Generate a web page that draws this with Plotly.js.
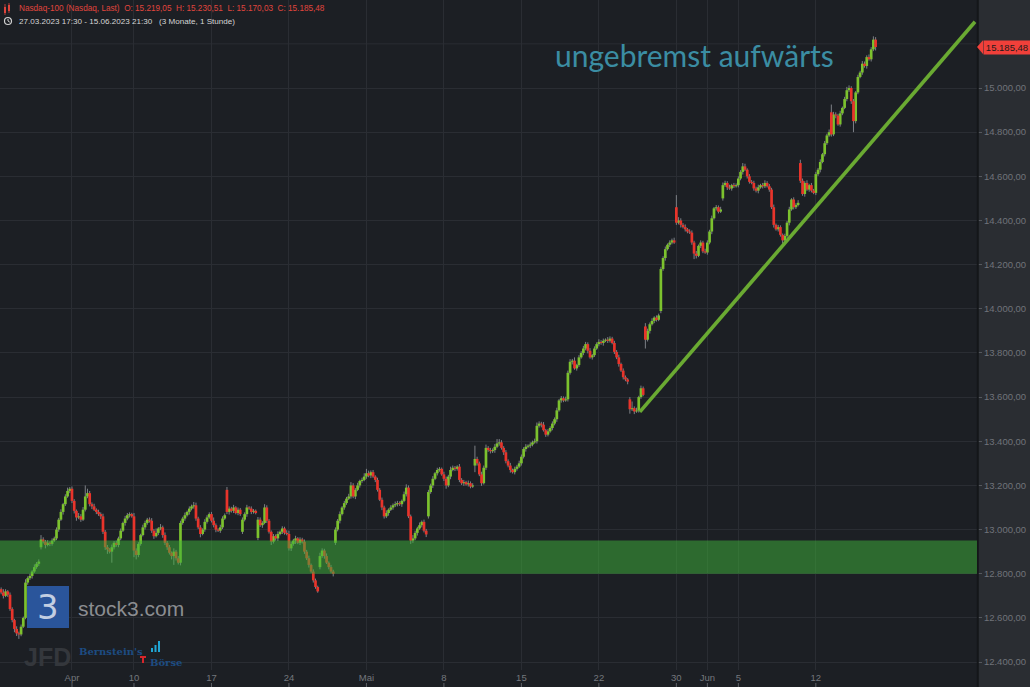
<!DOCTYPE html>
<html>
<head>
<meta charset="utf-8">
<script src="https://cdn.plot.ly/plotly-3.0.1.min.js"></script>
<style>
html,body{margin:0;padding:0;background:#1c1f24;}
#chart{width:1030px;height:687px;}
</style>
</head>
<body>
<div id="chart"></div>
<script>
// ---------- DATA (hourly candles, Nasdaq-100, 27.03.2023 17:30 – 15.06.2023 21:30) ----------
const tradingDays = ['2023-03-27','2023-03-28','2023-03-29','2023-03-30','2023-03-31',
  '2023-04-03','2023-04-04','2023-04-05','2023-04-06',
  '2023-04-10','2023-04-11','2023-04-12','2023-04-13','2023-04-14',
  '2023-04-17','2023-04-18','2023-04-19','2023-04-20','2023-04-21',
  '2023-04-24','2023-04-25','2023-04-26','2023-04-27','2023-04-28',
  '2023-05-01','2023-05-02','2023-05-03','2023-05-04','2023-05-05',
  '2023-05-08','2023-05-09','2023-05-10','2023-05-11','2023-05-12',
  '2023-05-15','2023-05-16','2023-05-17','2023-05-18','2023-05-19',
  '2023-05-22','2023-05-23','2023-05-24','2023-05-25','2023-05-26',
  '2023-05-30','2023-05-31','2023-06-01','2023-06-02',
  '2023-06-05','2023-06-06','2023-06-07','2023-06-08','2023-06-09',
  '2023-06-12','2023-06-13','2023-06-14','2023-06-15'];
const candlesPerDay = 7;       // 15:30 … 21:30
const firstSlot = 2;           // first candle 27.03. 17:30
const firstOpen = 12725;

const closes = [
 12730,12715,12700,12720,12705,
 12640,12590,12550,12530,12525,12560,12600,
 12760,12780,12790,12810,12830,12845,12855,
 12955,12945,12930,12940,12935,12950,12960,
 13000,13045,13080,13115,13150,13175,13185,
 13130,13085,13055,13060,13045,13090,13150,
 13165,13115,13105,13090,13080,13070,13060,
 12990,12920,12910,12900,12920,12940,12930,
 12960,12995,13030,13050,13065,13070,13060,
 12905,12885,12935,12975,13010,13030,13045,
 13040,12995,12970,12985,13005,13010,12975,
 12940,12920,12895,12880,12900,12870,12850,
 13030,13050,13065,13080,13095,13105,13110,
 13050,13010,12980,13000,13035,13055,13070,
 13040,13020,13000,12995,13010,13050,13065,
 13080,13095,13085,13100,13075,13090,13070,
 13045,13070,13100,13095,13080,13085,13075,
 13045,13020,13030,13100,13040,12990,12945,
 12970,12960,12980,12990,13005,12985,12980,
 12915,12935,12950,12960,12940,12955,12945,
 12900,12870,12840,12810,12770,12740,12720,
 12880,12905,12880,12850,12830,12810,12800,
 13000,13040,13070,13100,13120,13140,13150,
 13200,13150,13180,13200,13220,13225,13240,
 13255,13245,13260,13240,13225,13180,13135,
 13100,13060,13075,13090,13100,13110,13115,
 13120,13115,13130,13160,13190,13060,12950,
 12960,12985,13005,13020,13035,12995,12978,
 13170,13200,13230,13255,13270,13275,13250,
 13230,13200,13240,13270,13280,13275,13285,
 13225,13210,13215,13205,13210,13195,13200,
 13320,13300,13250,13210,13280,13370,13360,
 13355,13360,13375,13390,13395,13370,13350,
 13310,13290,13270,13260,13275,13285,13300,
 13330,13365,13375,13380,13385,13395,13400,
 13470,13480,13475,13450,13430,13445,13460,
 13480,13500,13540,13585,13595,13585,13590,
 13710,13760,13765,13730,13745,13780,13800,
 13820,13840,13810,13780,13790,13820,13840,
 13850,13845,13855,13860,13855,13865,13845,
 13805,13780,13750,13720,13690,13680,13670,
 13545,13550,13535,13540,13600,13640,13610,
 13860,13900,13930,13945,13960,13950,13970,
 14180,14230,14270,14290,14300,14310,14300,
 14390,14400,14380,14370,14360,14350,14345,
 14300,14250,14240,14285,14300,14260,14255,
 14300,14350,14410,14455,14460,14440,14450,
 14560,14570,14550,14545,14560,14555,14560,
 14590,14620,14645,14630,14600,14575,14570,
 14545,14535,14550,14560,14555,14570,14555,
 14540,14460,14380,14360,14370,14335,14310,
 14330,14390,14450,14495,14460,14470,14480,
 14580,14520,14570,14540,14560,14535,14525,
 14610,14630,14665,14700,14750,14785,14800,
 14790,14880,14875,14835,14885,14910,14950,
 14990,15000,14940,14850,14980,15050,15070,
 15110,15100,15140,15130,15175,15219.05,15185.48
];

// opening gaps: [trading-day index, open of its first candle]
const gapOpens = [[3,12920],[15,13180],[16,12990],[17,12962],[21,12830],[22,12940],
  [28,13060],[31,13290],[41,13590],[42,13920],[43,13990],[44,14460],[47,14500],
  [52,14660],[54,14890]];

const wickUp = [
 12,8,15,10,6,
 10,8,6,12,8,10,6,
 15,8,10,6,12,8,10,
 20,10,8,12,6,10,8,
 10,8,12,6,10,15,8,
 10,8,6,15,10,12,50,
 20,10,8,12,6,10,8,
 12,8,10,6,12,8,10,
 8,10,6,12,10,8,6,
 15,10,8,6,12,10,8,
 10,12,8,20,6,15,8,
 12,8,10,6,15,8,10,
 10,8,12,6,10,8,15,
 12,8,10,6,12,10,8,
 10,15,8,6,12,10,8,
 13,10,8,12,6,10,8,
 10,8,12,6,10,8,6,
 12,10,8,15,10,8,6,
 10,8,12,6,10,8,12,
 15,10,8,12,6,10,8,
 10,8,12,6,10,8,6,
 15,10,8,12,6,10,8,
 10,8,12,6,10,8,12,
 15,10,8,12,6,10,15,
 20,12,8,10,6,10,8,
 10,8,12,6,10,8,12,
 10,8,6,12,15,10,8,
 15,10,8,12,6,10,8,
 10,8,12,6,10,8,6,
 12,10,8,15,10,8,6,
 12,8,10,6,12,8,10,
 60,10,8,12,10,15,8,
 10,8,12,20,15,10,8,
 10,8,12,6,10,8,12,
 10,8,12,6,10,8,12,
 15,10,8,12,6,10,8,
 10,8,12,6,10,8,12,
 10,12,8,15,6,10,8,
 12,10,8,12,6,10,8,
 12,8,10,6,12,10,8,
 10,8,12,6,10,8,6,
 10,30,8,12,6,12,8,
 15,10,8,12,6,10,8,
 10,8,12,6,10,8,12,
 55,15,10,8,12,6,10,
 10,8,12,6,10,8,12,
 10,8,12,6,10,8,12,
 12,10,8,12,6,10,8,
 10,8,15,12,6,10,8,
 10,8,12,6,10,12,8,
 10,8,12,6,10,8,6,
 10,8,12,6,10,8,12,
 15,10,8,12,6,10,8,
 10,8,12,6,10,8,12,
 35,12,10,8,12,6,10,
 15,12,8,10,6,10,8,
 12,10,8,12,10,15,11.46
];

const wickDown = [
 10,8,12,6,10,
 8,10,15,12,20,8,6,
 6,10,8,12,6,8,10,
 10,8,15,6,10,8,6,
 8,10,6,12,8,6,10,
 10,12,15,8,10,6,8,
 8,10,12,6,10,8,12,
 10,12,20,8,50,10,8,
 10,8,6,12,8,10,6,
 30,20,10,8,6,10,8,
 8,10,12,6,10,8,12,
 10,12,8,15,40,10,8,
 12,8,10,6,12,8,10,
 10,8,15,6,10,8,6,
 8,10,12,6,10,8,6,
 10,12,8,10,6,10,8,
 10,8,12,6,10,8,6,
 10,8,12,6,10,8,15,
 8,10,12,6,10,8,6,
 10,12,8,15,6,10,8,
 10,8,12,6,10,8,6,
 10,8,12,6,10,8,12,
 10,8,12,6,10,8,6,
 10,8,12,6,10,8,6,
 10,8,12,6,10,8,6,
 12,10,8,12,6,10,8,
 10,8,12,6,10,8,15,
 10,8,12,6,10,8,12,
 10,8,12,6,10,8,6,
 10,15,8,12,6,10,8,
 10,8,12,6,10,8,6,
 30,10,8,12,6,10,8,
 10,8,12,6,10,8,12,
 10,8,12,6,10,8,6,
 10,8,12,6,10,8,6,
 10,8,12,6,10,8,6,
 10,8,12,6,10,8,6,
 10,8,12,6,10,8,6,
 10,8,12,6,10,8,6,
 10,8,12,6,10,8,6,
 10,8,12,6,10,8,12,
 20,8,12,6,10,8,6,
 40,8,12,6,10,8,6,
 10,8,12,6,10,8,6,
 10,8,12,6,10,8,6,
 10,25,12,6,10,8,6,
 10,8,12,6,10,8,6,
 10,8,12,6,10,8,6,
 10,8,12,6,10,8,6,
 10,8,12,6,10,8,6,
 10,8,12,6,10,8,15,
 10,8,12,6,10,8,6,
 10,8,12,6,10,8,6,
 10,8,12,6,10,8,6,
 10,8,12,6,10,8,6,
 10,8,12,50,10,8,6,
 10,8,12,6,10,8,15.45
];

// x-axis labels (first trading day shown with each label)
const tickDates = ['2023-04-03','2023-04-10','2023-04-17','2023-04-24','2023-05-01','2023-05-08',
  '2023-05-15','2023-05-22','2023-05-30','2023-06-01','2023-06-05','2023-06-12'];
const tickText = ['Apr','10','17','24','Mai','8','15','22','30','Jun','5','12'];

const priceTicks = [12400,12600,12800,13000,13200,13400,13600,13800,14000,14200,14400,14600,14800,15000];
const gridOnly = [15200];
const supportZone = [12800, 12950];
// trend line drawn on the chart: [candle slot, price]
const trendX = [291.5, 442.9];
const trendY = [13533, 15300];

const headerLine1 = 'Nasdaq-100 (Nasdaq, Last)\u00a0\u00a0O: 15.219,05\u00a0\u00a0H: 15.230,51\u00a0\u00a0L: 15.170,03\u00a0\u00a0C: 15.185,48';
const headerLine2 = '27.03.2023 17:30 - 15.06.2023 21:30\u00a0\u00a0\u00a0(3 Monate, 1 Stunde)';
const headline = 'ungebremst aufwärts';
const lastPrice = 15185.48;
const lastPriceText = '15.185,48';

// ---------- BUILD ----------
const N = closes.length;
const opens = closes.map((c, i) => i === 0 ? firstOpen : closes[i - 1]);
gapOpens.forEach(([d, o]) => { opens[d * candlesPerDay - firstSlot] = o; });
const xs = closes.map((c, i) => i + firstSlot);
const highs = closes.map((c, i) => Math.max(opens[i], c) + wickUp[i]);
const lows = closes.map((c, i) => Math.min(opens[i], c) - wickDown[i]);

const GREEN = '#7cc22e', RED = '#e8342b';
const wx = [], wy = [], gx = [], gy = [], rx = [], ry = [];
for (let i = 0; i < N; i++) {
  wx.push(xs[i], xs[i], null); wy.push(lows[i], highs[i], null);
  const lo = Math.min(opens[i], closes[i]);
  const hi = Math.max(Math.max(opens[i], closes[i]), lo + 5);
  if (closes[i] >= opens[i]) { gx.push(xs[i], xs[i], null); gy.push(lo, hi, null); }
  else { rx.push(xs[i], xs[i], null); ry.push(lo, hi, null); }
}

const tickSlots = tickDates.map(d => tradingDays.indexOf(d) * candlesPerDay);

// pixel geometry helpers for decorative elements (plot area 977 x 670)
const PW = 977, PH = 670;
const px = v => v / PW;
const py = v => 1 - v / PH;

const traces = [
  {type: 'scatter', mode: 'lines', x: wx, y: wy, line: {color: '#7d8086', width: 1},
   hoverinfo: 'skip', showlegend: false},
  {type: 'scatter', mode: 'lines', x: gx, y: gy, line: {color: GREEN, width: 2.7},
   hoverinfo: 'skip', showlegend: false},
  {type: 'scatter', mode: 'lines', x: rx, y: ry, line: {color: RED, width: 2.7},
   hoverinfo: 'skip', showlegend: false},
  {type: 'scatter', mode: 'lines', x: trendX, y: trendY,
   line: {color: '#6aaa32', width: 3.6}, hoverinfo: 'skip', showlegend: false}
];

const shapes = [
  // right price-axis panel
  {type: 'rect', xref: 'paper', yref: 'paper', x0: 1, x1: 1030 / PW, y0: -17 / PH, y1: 1,
   fillcolor: '#2a2d32', line: {width: 0}, layer: 'below'},
  {type: 'line', xref: 'paper', yref: 'paper', x0: 1.0008, x1: 1.0008, y0: -17 / PH, y1: 1,
   line: {color: '#141619', width: 2}},
  // support zone
  {type: 'rect', xref: 'paper', yref: 'y', x0: 0, x1: 1, y0: supportZone[0], y1: supportZone[1],
   fillcolor: 'rgba(62,176,58,0.52)', line: {width: 0}, layer: 'above'},
  // price tag arrow
  {type: 'path', xref: 'paper', yref: 'y',
   path: `M ${px(977)},${lastPrice} L ${px(983)},${lastPrice + 31} L ${px(983)},${lastPrice - 31} Z`,
   fillcolor: '#f0403a', line: {width: 0}},
  // stock3 logo square
  {type: 'rect', xref: 'paper', yref: 'paper', x0: px(27), x1: px(69), y0: py(628), y1: py(586),
   fillcolor: '#2a559b', line: {width: 0}},
  // clock icon
  {type: 'circle', xref: 'paper', yref: 'paper', x0: px(4.5), x1: px(11.5), y0: py(24.5), y1: py(17.5),
   line: {color: '#d0d0d0', width: 1.2}},
  {type: 'path', xref: 'paper', yref: 'paper',
   path: `M ${px(8)},${py(18.8)} L ${px(8)},${py(21)} L ${px(9.8)},${py(22.2)}`,
   line: {color: '#d0d0d0', width: 1}},
  // header candle icon
  {type: 'rect', xref: 'paper', yref: 'paper', x0: px(4), x1: px(6), y0: py(13), y1: py(7),
   fillcolor: '#e0453d', line: {width: 0}},
  {type: 'rect', xref: 'paper', yref: 'paper', x0: px(8), x1: px(10), y0: py(11), y1: py(5),
   fillcolor: '#e0453d', line: {width: 0}},
  {type: 'line', xref: 'paper', yref: 'paper', x0: px(5), x1: px(5), y0: py(15), y1: py(4),
   line: {color: '#e0453d', width: 0.8}},
  {type: 'line', xref: 'paper', yref: 'paper', x0: px(9), x1: px(9), y0: py(13), y1: py(3),
   line: {color: '#e0453d', width: 0.8}},
  // Bernstein's bar icon
  {type: 'rect', xref: 'paper', yref: 'paper', x0: px(151), x1: px(153), y0: py(652), y1: py(648),
   fillcolor: '#1fa6d6', line: {width: 0}},
  {type: 'rect', xref: 'paper', yref: 'paper', x0: px(154.5), x1: px(156.5), y0: py(652), y1: py(645),
   fillcolor: '#1fa6d6', line: {width: 0}},
  {type: 'rect', xref: 'paper', yref: 'paper', x0: px(158), x1: px(160), y0: py(652), y1: py(641),
   fillcolor: '#1fa6d6', line: {width: 0}},
  {type: 'rect', xref: 'paper', yref: 'paper', x0: px(140), x1: px(146), y0: py(658), y1: py(656),
   fillcolor: '#d6262b', line: {width: 0}},
  {type: 'rect', xref: 'paper', yref: 'paper', x0: px(142), x1: px(144), y0: py(663), y1: py(656),
   fillcolor: '#d6262b', line: {width: 0}}
];
// small date ticks under the labels
tickSlots.forEach(s => shapes.push({type: 'line', xref: 'x', yref: 'paper', x0: s, x1: s,
  y0: -13 / PH, y1: -17 / PH, line: {color: '#5d6066', width: 1}}));
// grid line above the last labelled level (label hidden behind the price tag)
gridOnly.forEach(v => shapes.push({type: 'line', xref: 'paper', yref: 'y', x0: 0, x1: 1, y0: v, y1: v,
  line: {color: '#2a2d33', width: 1}, layer: 'below'}));

const FONT = 'Liberation Sans, Arial, sans-serif';
const annotations = [
  {xref: 'paper', yref: 'paper', x: px(16.5), y: py(9), xanchor: 'left', yanchor: 'middle',
   text: headerLine1, showarrow: false, font: {family: FONT, size: 8.2, color: '#e0453d'}},
  {xref: 'paper', yref: 'paper', x: px(16.5), y: py(21), xanchor: 'left', yanchor: 'middle',
   text: headerLine2, showarrow: false, font: {family: FONT, size: 8.1, color: '#d5d5d5'}},
  {xref: 'paper', yref: 'paper', x: px(694), y: py(55), xanchor: 'center', yanchor: 'middle',
   text: headline, showarrow: false, font: {family: 'Lato, sans-serif', size: 30, color: '#3b8da3'}},
  {xref: 'paper', yref: 'y', x: px(983), y: lastPrice, xanchor: 'left', yanchor: 'middle',
   text: lastPriceText, showarrow: false, bgcolor: '#f0403a', borderpad: 1, width: 44,
   font: {family: FONT, size: 9.5, color: '#1b1b1b'}},
  {xref: 'paper', yref: 'paper', x: px(48), y: py(607), xanchor: 'center', yanchor: 'middle',
   text: '3', showarrow: false, font: {family: 'DejaVu Sans, sans-serif', size: 34, color: '#c2cee2'}},
  {xref: 'paper', yref: 'paper', x: px(76), y: py(608), xanchor: 'left', yanchor: 'middle',
   text: 'stock3.com', showarrow: false, font: {family: FONT, size: 21, color: '#8b8d91'}},
  {xref: 'paper', yref: 'paper', x: px(47), y: py(657), xanchor: 'center', yanchor: 'middle',
   text: '<b>JFD</b>', showarrow: false, font: {family: FONT, size: 25, color: '#34373c'}},
  {xref: 'paper', yref: 'paper', x: px(77), y: py(651), xanchor: 'left', yanchor: 'middle',
   text: '<b>Bernstein\'s</b>', showarrow: false, font: {family: 'DejaVu Serif, serif', size: 10, color: '#1d4c82'}},
  {xref: 'paper', yref: 'paper', x: px(148), y: py(662), xanchor: 'left', yanchor: 'middle',
   text: '<b>Börse</b>', showarrow: false, font: {family: 'DejaVu Serif, serif', size: 10, color: '#1d4c82'}}
];

const layout = {
  width: 1030, height: 687,
  margin: {l: 0, r: 53, t: 0, b: 17, pad: 0},
  paper_bgcolor: '#1c1f24', plot_bgcolor: '#1c1f24',
  separators: ',.',
  showlegend: false,
  xaxis: {range: [2.48, 443.8], tickvals: tickSlots, ticktext: tickText, ticks: '',
    showgrid: true, gridcolor: '#2a2d33', gridwidth: 1, zeroline: false, showline: false,
    tickfont: {family: FONT, size: 9.5, color: '#74777d'}, fixedrange: true},
  yaxis: {range: [12364, 15398.6], side: 'right', tickvals: priceTicks, tickformat: ',.2f',
    ticks: 'outside', ticklen: 4, tickcolor: '#55585e', showgrid: true, gridcolor: '#2a2d33',
    zeroline: false, showline: false,
    tickfont: {family: FONT, size: 9.5, color: '#70737a'}, fixedrange: true},
  shapes: shapes,
  annotations: annotations
};

Plotly.newPlot('chart', traces, layout, {displayModeBar: false, staticPlot: true});
</script>
</body>
</html>
